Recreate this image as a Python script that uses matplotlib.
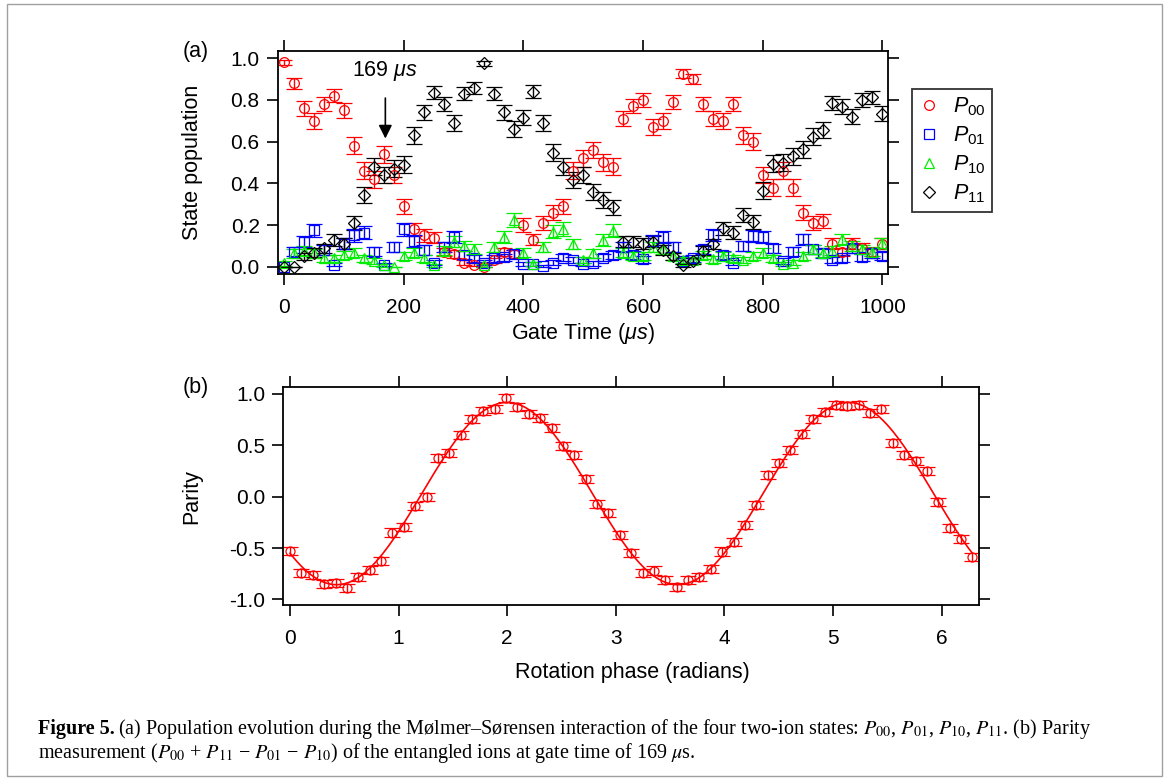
import numpy as np
import matplotlib
matplotlib.use('Agg')
import matplotlib.pyplot as plt
from matplotlib.lines import Line2D
from matplotlib.patches import Rectangle

plt.rcParams['font.family'] = ['Liberation Sans', 'DejaVu Sans']
plt.rcParams['mathtext.fontset'] = 'custom'
plt.rcParams['mathtext.rm'] = 'Liberation Sans'
plt.rcParams['mathtext.it'] = 'Liberation Sans:italic'
plt.rcParams['axes.unicode_minus'] = False

# (a) populations vs gate time, 61 scan points 0..1000 us
gate_time = np.linspace(0, 1000, 61)
p00 = [0.98, 0.88, 0.76, 0.70, 0.78, 0.82, 0.75, 0.58, 0.46, 0.42,
       0.54, 0.44, 0.29, 0.18, 0.15, 0.14, 0.07, 0.06, 0.02, 0.01,
       0.00, 0.03, 0.07, 0.06, 0.20, 0.13, 0.21, 0.26, 0.29, 0.46,
       0.52, 0.56, 0.50, 0.48, 0.71, 0.77, 0.80, 0.67, 0.70, 0.79,
       0.925, 0.90, 0.78, 0.71, 0.70, 0.78, 0.63, 0.60, 0.44, 0.38,
       0.46, 0.38, 0.26, 0.21, 0.22, 0.11, 0.07, 0.11, 0.09, 0.07, 0.11]
p01 = [0.00, 0.072, 0.12, 0.176, 0.08, 0.01, 0.11, 0.15, 0.163, 0.072,
       0.01, 0.096, 0.18, 0.123, 0.08, 0.02, 0.096, 0.144, 0.056, 0.04,
       0.019, 0.04, 0.045, 0.059, 0.013, 0.013, 0.003, 0.019, 0.043, 0.032,
       0.011, 0.016, 0.043, 0.056, 0.093, 0.056, 0.035, 0.123, 0.144, 0.093,
       0.029, 0.04, 0.083, 0.152, 0.056, 0.019, 0.099, 0.147, 0.141, 0.088,
       0.029, 0.072, 0.131, 0.083, 0.064, 0.032, 0.04, 0.088, 0.045, 0.064, 0.051]
p10 = [0.016, 0.064, 0.077, 0.064, 0.04, 0.04, 0.056, 0.067, 0.04, 0.029,
       0.008, 0.0, 0.051, 0.067, 0.04, 0.008, 0.077, 0.12, 0.10, 0.085,
       0.008, 0.093, 0.141, 0.224, 0.067, 0.013, 0.093, 0.168, 0.181, 0.109,
       0.032, 0.064, 0.128, 0.173, 0.067, 0.051, 0.051, 0.096, 0.083, 0.05,
       0.032, 0.032, 0.056, 0.035, 0.051, 0.04, 0.032, 0.051, 0.067, 0.04,
       0.013, 0.019, 0.051, 0.083, 0.067, 0.077, 0.131, 0.099, 0.083, 0.072, 0.112]
p11 = [0.0, 0.0, 0.05, 0.067, 0.088, 0.128, 0.11, 0.21, 0.344, 0.48,
       0.44, 0.47, 0.49, 0.63, 0.74, 0.835, 0.78, 0.69, 0.83, 0.856,
       0.976, 0.83, 0.74, 0.66, 0.715, 0.84, 0.69, 0.547, 0.48, 0.416,
       0.44, 0.36, 0.32, 0.285, 0.12, 0.12, 0.11, 0.12, 0.08, 0.05,
       0.008, 0.029, 0.077, 0.109, 0.184, 0.163, 0.248, 0.216, 0.365, 0.493,
       0.499, 0.531, 0.564, 0.624, 0.656, 0.787, 0.768, 0.72, 0.80, 0.813, 0.733]
n_shots = 150  # rough shot number behind the error bars

# (b) parity vs analysis phase, 61 points 0..2pi
phase = np.linspace(0, 2 * np.pi, 61)
parity = [-0.53, -0.74, -0.76, -0.853, -0.843, -0.886, -0.779, -0.714, -0.626, -0.35,
          -0.292, -0.09, 0.0, 0.374, 0.428, 0.60, 0.753, 0.834, 0.85, 0.957,
          0.873, 0.802, 0.763, 0.672, 0.497, 0.406, 0.169, -0.071, -0.162, -0.373,
          -0.551, -0.746, -0.72, -0.811, -0.882, -0.811, -0.779, -0.707, -0.535, -0.438,
          -0.279, -0.081, 0.211, 0.325, 0.455, 0.607, 0.753, 0.828, 0.893, 0.886,
          0.893, 0.818, 0.854, 0.526, 0.406, 0.348, 0.253, -0.049, -0.308, -0.412, -0.59]
parity_err = 0.04

series = [(p00, 'o', '#ff0000', r'$P_{00}$', 7.0),
          (p01, 's', '#0000ff', r'$P_{01}$', 7.0),
          (p10, '^', '#00ee00', r'$P_{10}$', 7.5),
          (p11, 'D', '#000000', r'$P_{11}$', 6.2)]

fig = plt.figure(figsize=(11.69, 7.80), dpi=100)
W, H = 1169, 780


def frac(x0, y0, x1, y1):
    return [x0 / W, 1 - y1 / H, (x1 - x0) / W, (y1 - y0) / H]


def style_axes(ax):
    for s in ax.spines.values():
        s.set_linewidth(1.3)
    ax.tick_params(direction='out', length=8, width=1.2, labelsize=15,
                   top=True, right=True, colors='black')
    ax.tick_params(axis='x', pad=9)
    ax.tick_params(axis='y', pad=5)


# ---- panel (a)
ax1 = fig.add_axes(frac(277.7, 51, 888.3, 274))
for vals, m, c, lab, ms in series:
    v = np.array(vals)
    err = np.sqrt(v * (1 - v) / n_shots)
    ax1.errorbar(gate_time, v, yerr=err, fmt=m, mfc='none', mec=c, ecolor=c,
                 ms=ms, mew=0.9, elinewidth=1.0, capsize=6, capthick=1.1)
ax1.set_xlim(-11, 1010)
ax1.set_ylim(-0.035, 1.035)
ax1.set_xticks([0, 200, 400, 600, 800, 1000])
ax1.set_yticks([0, 0.2, 0.4, 0.6, 0.8, 1.0])
ax1.set_yticklabels(['%.1f' % t for t in ax1.get_yticks()])
style_axes(ax1)
ax1.set_xlabel(r'Gate Time ($\mu s$)', fontsize=15.5, va='center')
ax1.xaxis.set_label_coords(0.5, -0.265)
ax1.set_ylabel('State population', fontsize=15.5, va='center')
ax1.yaxis.set_label_coords(-0.140, 0.5)
ax1.annotate(r'169 $\mu s$', xy=(169, 0.615), xytext=(169, 0.94),
             ha='center', va='center', fontsize=15.5,
             arrowprops=dict(arrowstyle='-|>', color='black', lw=1.2,
                             mutation_scale=20, shrinkA=9, shrinkB=0))

handles = [Line2D([], [], ls='none', marker=m, mfc='none', mec=c, ms=ms, mew=0.9)
           for _, m, c, _, ms in series]
labels = [s[3] for s in series]
leg = fig.legend(handles, labels, loc='upper left',
                 bbox_to_anchor=(912 / W, 1 - 89 / H), borderaxespad=0,
                 fontsize=15.5, frameon=True, fancybox=False, edgecolor='black',
                 handlelength=1.0, handletextpad=0.6, borderpad=0.3,
                 labelspacing=0.3)
leg.get_frame().set_linewidth(1.3)

# ---- panel (b)
ax2 = fig.add_axes(frac(283.3, 387.3, 979.3, 605))
ax2.errorbar(phase, parity, yerr=parity_err, fmt='o', mfc='none', mec='#ff0000',
             ecolor='#ff0000', ms=6.5, mew=0.9, elinewidth=1.0, capsize=6,
             capthick=1.1)
# sinusoidal fit at twice the phase
A = np.column_stack([np.cos(2 * phase), np.sin(2 * phase), np.ones_like(phase)])
coef = np.linalg.lstsq(A, np.array(parity), rcond=None)[0]
xf = np.linspace(phase[0], phase[-1], 400)
yf = coef[0] * np.cos(2 * xf) + coef[1] * np.sin(2 * xf) + coef[2]
ax2.plot(xf, yf, color='#ff0000', lw=1.2)
ax2.set_xlim(-0.062, 6.347)
ax2.set_ylim(-1.055, 1.065)
ax2.set_xticks(range(7))
ax2.set_yticks([-1.0, -0.5, 0.0, 0.5, 1.0])
ax2.set_yticklabels(['%.1f' % t for t in ax2.get_yticks()])
style_axes(ax2)
ax2.set_xlabel('Rotation phase (radians)', fontsize=15.5, va='center')
ax2.xaxis.set_label_coords(0.501, -0.308)
ax2.set_ylabel('Parity', fontsize=15.5, va='center')
ax2.yaxis.set_label_coords(-0.131, 0.496)

fig.text(196 / W, 1 - 51 / H, '(a)', fontsize=15.5, ha='center', va='center')
fig.text(196 / W, 1 - 388 / H, '(b)', fontsize=15.5, ha='center', va='center')

# ---- caption
cap_kw = dict(fontsize=14.5, family='Liberation Serif', math_fontfamily='stix',
              va='baseline', ha='left')
t_bold = fig.text(38 / W, 1 - 734 / H, 'Figure 5.', fontweight='bold', **cap_kw)
fig.canvas.draw()
bb = t_bold.get_window_extent().transformed(fig.transFigure.inverted())
fig.text(bb.x1 + 3 / W, 1 - 734 / H,
         '(a) Population evolution during the Mølmer–Sørensen interaction of the '
         'four two-ion states: $P_{00}$, $P_{01}$, $P_{10}$, $P_{11}$. (b) Parity',
         **cap_kw)
fig.text(38 / W, 1 - 758 / H,
         'measurement ($P_{00}$ + $P_{11}$ − $P_{01}$ − $P_{10}$) of the entangled '
         r'ions at gate time of 169 $\mu$s.', **cap_kw)

fig.patches.append(Rectangle((7 / W, 4 / H), 1155 / W, 772 / H,
                             transform=fig.transFigure, fill=False,
                             edgecolor='#a0a0a0', lw=1.0))

fig.savefig('out.png', dpi=100)
